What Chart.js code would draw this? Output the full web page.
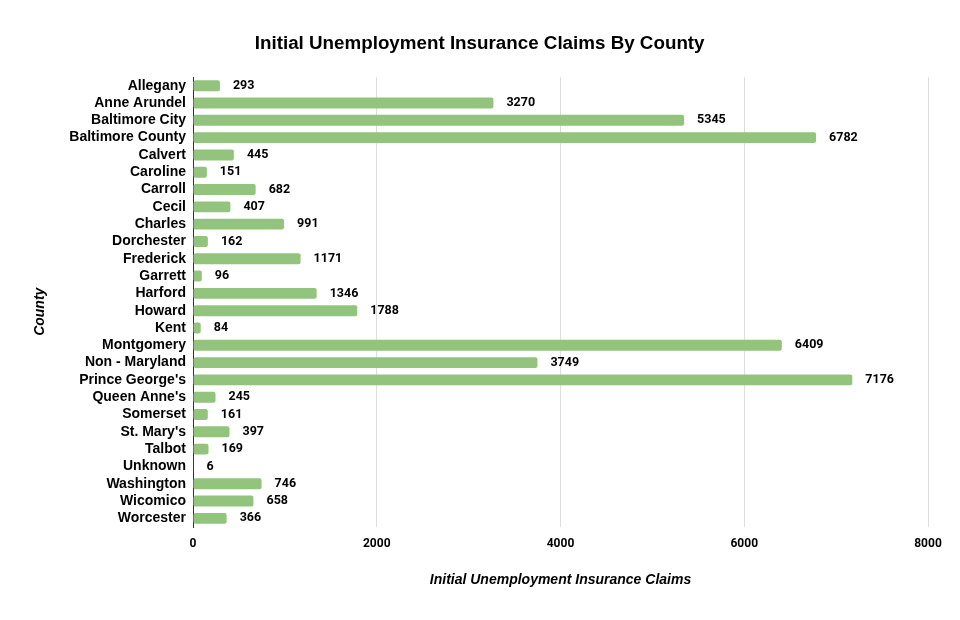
<!DOCTYPE html>
<html>
<head>
<meta charset="utf-8">
<script src="https://cdn.jsdelivr.net/npm/chart.js@4"></script>
<style>
  html, body { margin: 0; padding: 0; background: #fff; }
  #wrap { width: 960px; height: 620px; }
</style>
</head>
<body>
<div id="wrap"><canvas id="c" width="960" height="620"></canvas></div>
<script>
const counties = ["Allegany","Anne Arundel","Baltimore City","Baltimore County","Calvert","Caroline","Carroll","Cecil","Charles","Dorchester","Frederick","Garrett","Harford","Howard","Kent","Montgomery","Non - Maryland","Prince George's","Queen Anne's","Somerset","St. Mary's","Talbot","Unknown","Washington","Wicomico","Worcester"];
const claims = [293,3270,5345,6782,445,151,682,407,991,162,1171,96,1346,1788,84,6409,3749,7176,245,161,397,169,6,746,658,366];
const xTicks = [0,2000,4000,6000,8000];

const titleText = "Initial Unemployment Insurance Claims By County";
const xTitle = "Initial Unemployment Insurance Claims";
const yTitle = "County";

const dataLabels = {
  id: 'dataLabels',
  afterDatasetsDraw(chart) {
    const ctx = chart.ctx;
    const meta = chart.getDatasetMeta(0);
    ctx.save();
    ctx.font = 'bold 12.5px Roboto';
    ctx.fillStyle = '#000';
    ctx.textAlign = 'left';
    ctx.textBaseline = 'middle';
    meta.data.forEach((bar, i) => {
      ctx.fillText(String(chart.data.datasets[0].data[i]), bar.x + 13, bar.y);
    });
    ctx.restore();
  }
};

new Chart(document.getElementById('c'), {
  type: 'bar',
  data: {
    labels: counties,
    datasets: [{
      data: claims,
      backgroundColor: '#93c47d',
      borderRadius: 2,
      borderSkipped: false,
      categoryPercentage: 1,
      barPercentage: 0.63
    }]
  },
  options: {
    indexAxis: 'y',
    responsive: false,
    animation: false,
    layout: { padding: { left: 0, right: 32, top: 0, bottom: 0 } },
    plugins: {
      legend: { display: false },
      tooltip: { enabled: false },
      title: {
        display: true,
        text: '      ' + titleText,
        color: '#000',
        font: { family: 'Liberation Sans', size: 18.8, weight: 'bold' },
        padding: { top: 33, bottom: 21.5 }
      }
    },
    scales: {
      x: {
        min: 0,
        max: 8000,
        afterFit(scale) { scale.height = 93; },
        afterBuildTicks(scale) { scale.ticks = xTicks.map(v => ({ value: v })); },
        grid: { color: '#dddddd', drawTicks: false },
        border: { display: false },
        ticks: {
          padding: 10,
          color: '#000',
          callback: (v) => String(v),
          font: { family: 'Roboto', size: 12, weight: 'bold' }
        },
        title: {
          display: true,
          text: xTitle,
          color: '#000',
          font: { family: 'Liberation Sans', size: 14, weight: 'bold', style: 'italic' },
          padding: { top: 0, bottom: 31.6 }
        }
      },
      y: {
        afterFit(scale) { scale.width = 193; },
        grid: { display: false, drawTicks: false },
        border: { display: true, color: '#333333', width: 1 },
        ticks: {
          padding: 7,
          color: '#000',
          autoSkip: false,
          font: { family: 'Liberation Sans', size: 14, weight: 'bold' }
        },
        title: {
          display: true,
          text: yTitle + '     ',
          color: '#000',
          font: { family: 'Liberation Sans', size: 14, weight: 'bold', style: 'italic' },
          padding: { top: 32.1, bottom: 0 }
        }
      }
    }
  },
  plugins: [dataLabels]
});
</script>
</body>
</html>
